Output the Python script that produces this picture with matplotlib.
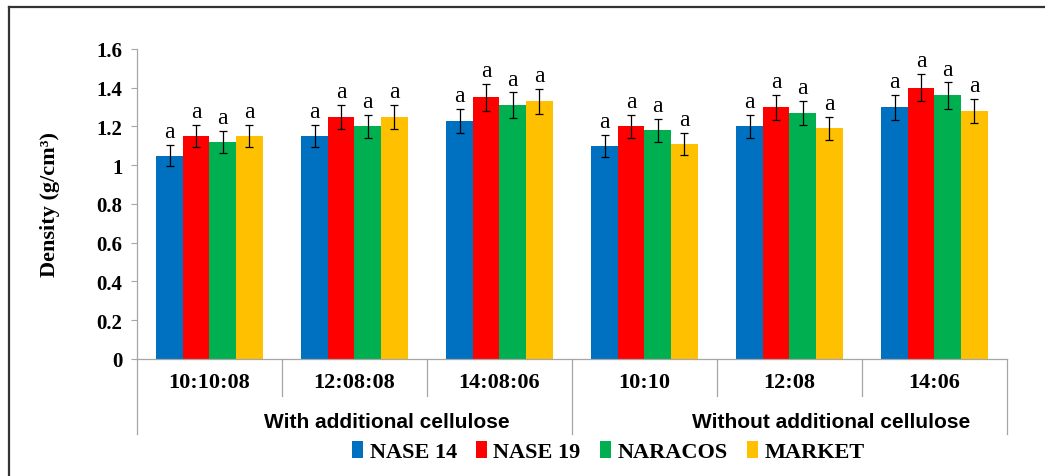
import numpy as np
import matplotlib
matplotlib.use("Agg")
import matplotlib.pyplot as plt
from matplotlib.lines import Line2D
from matplotlib.font_manager import FontProperties
import matplotlib.transforms as mtransforms

# density per formulation and cassava variety
formulations = ["10:10:08", "12:08:08", "14:08:06", "10:10", "12:08", "14:06"]
groups = ["With additional cellulose", "Without additional cellulose"]
varieties = ["NASE 14", "NASE 19", "NARACOS", "MARKET"]
colors = ["#0070C0", "#FF0000", "#00B050", "#FFC000"]

nase14 = [1.05, 1.15, 1.23, 1.10, 1.20, 1.30]
nase19 = [1.15, 1.25, 1.35, 1.20, 1.30, 1.40]
naracos = [1.12, 1.20, 1.31, 1.18, 1.27, 1.36]
market = [1.15, 1.25, 1.33, 1.11, 1.19, 1.28]

err14 = [0.055, 0.058, 0.062, 0.055, 0.060, 0.065]
err19 = [0.057, 0.062, 0.068, 0.060, 0.065, 0.070]
errnar = [0.056, 0.060, 0.066, 0.059, 0.064, 0.068]
errmkt = [0.057, 0.062, 0.066, 0.056, 0.060, 0.064]

letters = ["a"] * 6

series = [nase14, nase19, naracos, market]
errors = [err14, err19, errnar, errmkt]

serif = ["Liberation Serif", "DejaVu Serif"]
sans = ["Liberation Sans", "DejaVu Sans"]
plt.rcParams["font.family"] = serif

fig = plt.figure(figsize=(10.45, 4.77), dpi=100)
ax = fig.add_axes([0.1311, 0.2453, 0.8325, 0.6499])

x = np.arange(len(formulations))
width = 0.183
for i, (vals, errs) in enumerate(zip(series, errors)):
    pos = x + (i - 1.5) * width
    ax.bar(pos, vals, width, color=colors[i], label=varieties[i], zorder=2)
    ax.errorbar(pos, vals, yerr=errs, fmt="none", ecolor="black",
                elinewidth=0.9, capsize=2.8, capthick=0.9, zorder=3)
    for px, v, e, lt in zip(pos, vals, errs, letters):
        ax.annotate(lt, (px, v + e), xytext=(0, 2), textcoords="offset points",
                    ha="center", va="bottom", fontsize=17)

ax.set_xlim(-0.5, 5.5)
ax.set_ylim(0, 1.6)
ax.set_yticks(np.arange(0, 1.61, 0.2))
ax.set_yticklabels(["0", "0.2", "0.4", "0.6", "0.8", "1", "1.2", "1.4", "1.6"],
                   fontsize=15, fontweight="bold")
ax.set_xticks([])
ax.tick_params(axis="y", direction="out", length=4.5, width=0.8, color="#A6A6A6", pad=6)

for s in ["top", "right"]:
    ax.spines[s].set_visible(False)
for s in ["left", "bottom"]:
    ax.spines[s].set_color("#A6A6A6")
    ax.spines[s].set_linewidth(0.9)

ax.set_ylabel("Density (g/cm³)", fontsize=16, fontweight="bold")
ax.yaxis.set_label_coords(-0.088, 0.5)

# two-level category axis below the plot
trans = mtransforms.blended_transform_factory(ax.transData, ax.transAxes)
for b in np.arange(-0.5, 6.0, 1.0):
    depth = -0.242 if b in (-0.5, 2.5, 5.5) else -0.119
    ax.plot([b, b], [0, depth], color="#A6A6A6", lw=0.9, transform=trans, clip_on=False)
for xi, lab in zip(x, formulations):
    ax.text(xi, -0.074, lab, transform=trans, ha="center", va="center",
            fontsize=16, fontweight="bold")
for xc, lab in zip([1.22, 4.29], groups):
    ax.text(xc, -0.203, lab, transform=trans, ha="center", va="center",
            fontsize=15, fontweight="bold", family=sans)

leg = fig.legend(loc="center", bbox_to_anchor=(0.582, 0.052), ncol=4, frameon=False,
                 handlelength=0.5, handleheight=0.8, handletextpad=0.3,
                 columnspacing=0.85,
                 prop=FontProperties(family=serif, weight="bold", size=16))

# outer frame
fig.add_artist(Line2D([0.0082, 1.0], [0.984, 0.984], color="#333333", lw=1.6,
                      transform=fig.transFigure))
fig.add_artist(Line2D([0.0088, 0.0088], [0.0, 0.984], color="#333333", lw=1.6,
                      transform=fig.transFigure))

fig.savefig("out.png", dpi=100)
